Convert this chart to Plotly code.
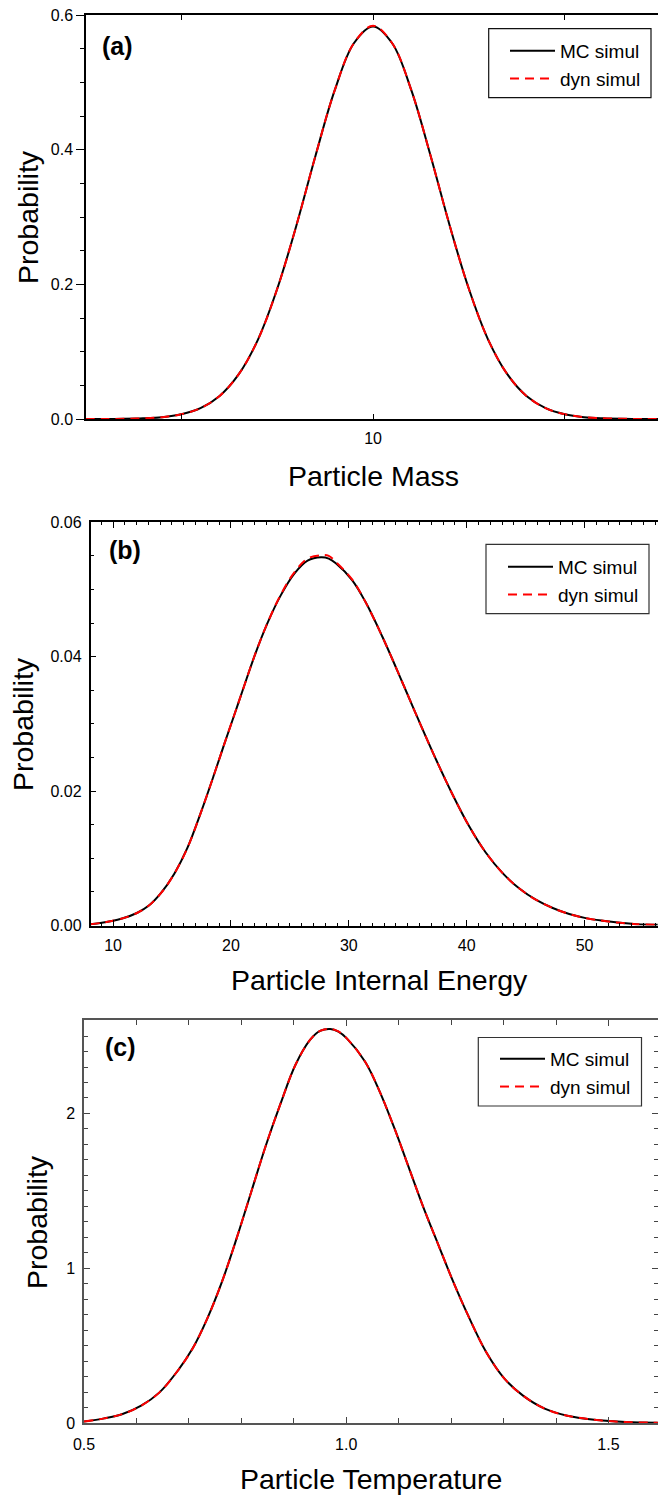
import plotly.graph_objects as go

W, H = 658, 1498

# ---------------- data ----------------
# (a) Particle Mass
mass_x = [2.5, 3.0, 3.5, 4.0, 4.5, 5.0, 5.5, 6.0, 6.5, 7.0, 7.5, 8.0, 8.5, 9.0, 9.5, 10.0,
          10.5, 11.0, 11.5, 12.0, 12.5, 13.0, 13.5, 14.0, 14.5, 15.0, 15.5, 16.0, 16.5, 17.0, 17.5]
mass_mc = [0.0000, 0.0001, 0.0003, 0.0010, 0.0027, 0.0070, 0.0161, 0.0343, 0.0666, 0.118, 0.193,
           0.287, 0.391, 0.488, 0.558, 0.583, 0.558, 0.488, 0.391, 0.287, 0.193, 0.118, 0.0666,
           0.0343, 0.0161, 0.0070, 0.0027, 0.0010, 0.0003, 0.0001, 0.0000]
mass_dyn = [0.0000, 0.0001, 0.0003, 0.0010, 0.0027, 0.0070, 0.0161, 0.0343, 0.0666, 0.118, 0.193,
            0.287, 0.391, 0.488, 0.558, 0.584, 0.558, 0.488, 0.391, 0.287, 0.193, 0.118, 0.0666,
            0.0343, 0.0161, 0.0070, 0.0027, 0.0010, 0.0003, 0.0001, 0.0000]

# (b) Particle Internal Energy
energy_x = [8.1, 9.05, 10.7, 12.07, 13.07, 14.06, 15.2, 16.3, 17.45, 18.58, 19.4, 20.3, 21.0,
            22.0, 23.1, 24.25, 25.4, 26.5, 27.65, 28.3, 28.9, 30.28, 31.4, 32.84, 34.54, 35.96,
            37.4, 38.8, 40.2, 41.6, 43.05, 44.47, 45.9, 47.3, 48.7, 50.1, 51.56, 53.0, 54.4, 56.2]
energy_mc = [0.0002, 0.0004, 0.0010, 0.0019, 0.0030, 0.0048, 0.0077, 0.0115, 0.0168, 0.0225,
             0.0268, 0.0314, 0.0350, 0.0401, 0.0450, 0.0492, 0.0524, 0.0543, 0.0548, 0.0546,
             0.0539, 0.0514, 0.0482, 0.0430, 0.0362, 0.0304, 0.0247, 0.0195, 0.0148, 0.0109,
             0.0078, 0.0055, 0.0038, 0.0026, 0.0017, 0.0011, 0.0007, 0.0004, 0.0002, 0.0001]
energy_dyn = [0.0002, 0.0004, 0.0010, 0.0019, 0.0030, 0.0048, 0.0077, 0.0115, 0.0168, 0.0225,
              0.0268, 0.0314, 0.0350, 0.0401, 0.0450, 0.0493, 0.0526, 0.0546, 0.0551, 0.0550,
              0.0541, 0.0515, 0.0482, 0.0430, 0.0362, 0.0304, 0.0247, 0.0195, 0.0148, 0.0109,
              0.0078, 0.0055, 0.0038, 0.0026, 0.0017, 0.0011, 0.0007, 0.0004, 0.0002, 0.0001]

# (c) Particle Temperature
temp_x = [0.5, 0.5385, 0.5736, 0.609, 0.644, 0.679, 0.7067, 0.7348, 0.7628, 0.7908, 0.8188,
          0.8469, 0.8749, 0.903, 0.931, 0.95, 0.9695, 0.985, 1.001, 1.036, 1.064, 1.092, 1.120,
          1.148, 1.176, 1.2043, 1.2323, 1.267, 1.302, 1.337, 1.3795, 1.4215, 1.4776, 1.5336, 1.594]
temp_mc = [0.010, 0.030, 0.058, 0.112, 0.198, 0.339, 0.479, 0.673, 0.910, 1.191, 1.493, 1.795,
           2.065, 2.313, 2.475, 2.533, 2.546, 2.529, 2.485, 2.334, 2.140, 1.903, 1.644, 1.385,
           1.148, 0.910, 0.695, 0.457, 0.285, 0.177, 0.091, 0.047, 0.019, 0.006, 0.002]
temp_dyn = [0.010, 0.030, 0.058, 0.112, 0.198, 0.339, 0.479, 0.673, 0.910, 1.191, 1.493, 1.795,
            2.065, 2.313, 2.475, 2.533, 2.547, 2.530, 2.485, 2.334, 2.140, 1.903, 1.644, 1.385,
            1.148, 0.910, 0.695, 0.457, 0.285, 0.177, 0.091, 0.047, 0.019, 0.006, 0.002]

mass_ticks = [5, 10, 15]
mass_ticktext = ["", "10", ""]
series_names = ["MC simul", "dyn simul"]
panel_labels = ["(a)", "(b)", "(c)"]
x_titles = ["Particle Mass", "Particle Internal Energy", "Particle Temperature"]
y_title = "Probability"

# ---------------- figure ----------------
FONT = "Arial, Liberation Sans, sans-serif"
fig = go.Figure()

panels = [
    (mass_x, mass_mc, mass_dyn, "x", "y", "legend"),
    (energy_x, energy_mc, energy_dyn, "x2", "y2", "legend2"),
    (temp_x, temp_mc, temp_dyn, "x3", "y3", "legend3"),
]
for xs, mc, dyn, xa, ya, lg in panels:
    fig.add_trace(go.Scatter(x=xs, y=mc, mode="lines", name=series_names[0], xaxis=xa, yaxis=ya,
                             legend=lg, line=dict(color="black", width=2, shape="spline", smoothing=1.0)))
    fig.add_trace(go.Scatter(x=xs, y=dyn, mode="lines", name=series_names[1], xaxis=xa, yaxis=ya,
                             legend=lg, line=dict(color="#ff0000", width=2, dash="9px,6px",
                                                  shape="spline", smoothing=1.0)))

def px_x(p):
    return p / W

def px_y(p):
    return 1 - p / H

tickfont = dict(family=FONT, size=16, color="black")

common = dict(showgrid=False, zeroline=False, showline=True, tickfont=tickfont, automargin=False)

layout = dict(
    template="none",
    width=W, height=H,
    margin=dict(l=0, r=0, t=0, b=0, pad=0),
    paper_bgcolor="white", plot_bgcolor="white",
    font=dict(family=FONT, color="black"),
    showlegend=True,
    # panel (a)
    xaxis=dict(domain=[px_x(86), 1], anchor="y", range=[2.516, 17.43],
               tickvals=mass_ticks, ticktext=mass_ticktext, ticks="inside", ticklen=5,
               linecolor="black", linewidth=1.5, tickcolor="black", mirror="ticks",
               ticklabelstandoff=4, **common),
    yaxis=dict(domain=[px_y(419), px_y(15)], anchor="x", range=[0, 0.6], dtick=0.2, tick0=0,
               tickformat=".1f", ticks="outside", ticklen=8, tickcolor="black",
               minor=dict(dtick=0.05, ticklen=4, ticks="outside", tickcolor="black"),
               linecolor="black", linewidth=1.5, ticklabelstandoff=0, **common),
    yaxis4=dict(overlaying="y", side="right", anchor="x", range=[0, 0.6], dtick=0.2, tick0=0,
                ticks="inside", ticklen=6, tickcolor="black", showticklabels=False,
                minor=dict(dtick=0.05, ticklen=3, ticks="inside", tickcolor="black"),
                showline=False, showgrid=False, zeroline=False, automargin=False),
    # panel (b)
    xaxis2=dict(domain=[px_x(90.5), 1], anchor="y2", range=[8.09, 56.23], dtick=10, tick0=0,
                ticks="inside", ticklen=6, tickcolor="black",
                minor=dict(dtick=1, ticklen=3, ticks="inside", tickcolor="black"),
                linecolor="black", linewidth=1.5, mirror="ticks", ticklabelstandoff=5, **common),
    yaxis2=dict(domain=[px_y(925.5), px_y(522.3)], anchor="x2", range=[0, 0.06], dtick=0.02, tick0=0,
                tickformat=".2f", ticks="inside", ticklen=6, tickcolor="black",
                minor=dict(dtick=0.005, ticklen=4, ticks="inside", tickcolor="black"),
                linecolor="black", linewidth=1.5, ticklabelstandoff=4, **common),
    # panel (c)
    xaxis3=dict(domain=[px_x(84), 1], anchor="y3", range=[0.5, 1.5944], dtick=0.5, tick0=0.5,
                tickformat=".1f", ticks="inside", ticklen=6, tickcolor="#444",
                minor=dict(dtick=0.1, ticklen=5, ticks="inside", tickcolor="#444"),
                linecolor="#555", linewidth=1.5, mirror="ticks", ticklabelstandoff=6, **common),
    yaxis3=dict(domain=[px_y(1423), px_y(1020.3)], anchor="x3", range=[0, 2.602], dtick=1, tick0=0,
                ticks="inside", ticklen=6, tickcolor="#444",
                minor=dict(dtick=0.1, ticklen=4, ticks="inside", tickcolor="#444"),
                linecolor="#555", linewidth=1.5, mirror="ticks", ticklabelstandoff=4, **common),
)

# legends: boxes drawn as rectangles, entries by plotly legends
leg_common = dict(bgcolor="rgba(0,0,0,0)", borderwidth=0,
                  font=dict(family=FONT, size=19, color="black"),
                  xanchor="left", yanchor="top", tracegroupgap=0, itemwidth=45)
legend_boxes = [  # (x0, y0, x1, y1, colour, text_start, top)
    (488.7, 28.7, 651, 97.7, "#111", 560, 32),
    (486, 544.3, 649, 613.7, "#333", 558, 548),
    (478.3, 1037.5, 641.5, 1106, "#333", 550, 1040),
]
shapes = []
for name, (x0, y0, x1, y1, col, ts, top) in zip(["legend", "legend2", "legend3"], legend_boxes):
    layout[name] = dict(x=px_x(ts - 55), y=px_y(top), **leg_common)
    shapes.append(dict(type="rect", xref="paper", yref="paper", x0=px_x(x0), x1=px_x(x1),
                       y0=px_y(y1), y1=px_y(y0), line=dict(color=col, width=1.2),
                       fillcolor="white", layer="above"))
layout["shapes"] = shapes

fig.update_layout(**layout)

# annotations: panel labels, axis titles
ann = []
label_pos = [(100, 46), (107, 550), (103, 1047)]
for lab, (lx, ly) in zip(panel_labels, label_pos):
    ann.append(dict(text="<b>%s</b>" % lab, x=px_x(lx), y=px_y(ly), xref="paper", yref="paper",
                    xanchor="left", yanchor="middle", showarrow=False,
                    font=dict(family=FONT, size=25, color="black")))
xt_pos = [(373.5, 476), (379, 980), (371, 1479)]
for t, (tx, ty) in zip(x_titles, xt_pos):
    ann.append(dict(text=t, x=px_x(tx), y=px_y(ty), xref="paper", yref="paper",
                    xanchor="center", yanchor="middle", showarrow=False,
                    font=dict(family=FONT, size=28.5, color="black")))
yt_pos = [(28, 217), (23, 724), (37, 1222)]
for (tx, ty) in yt_pos:
    ann.append(dict(text=y_title, x=px_x(tx), y=px_y(ty), xref="paper", yref="paper",
                    xanchor="center", yanchor="middle", showarrow=False, textangle=-90,
                    font=dict(family=FONT, size=28.5, color="black")))
fig.update_layout(annotations=ann)

fig.write_html("out.html", config={"displayModeBar": False},
               post_script="document.body.style.margin='0';document.body.style.overflow='hidden';")
